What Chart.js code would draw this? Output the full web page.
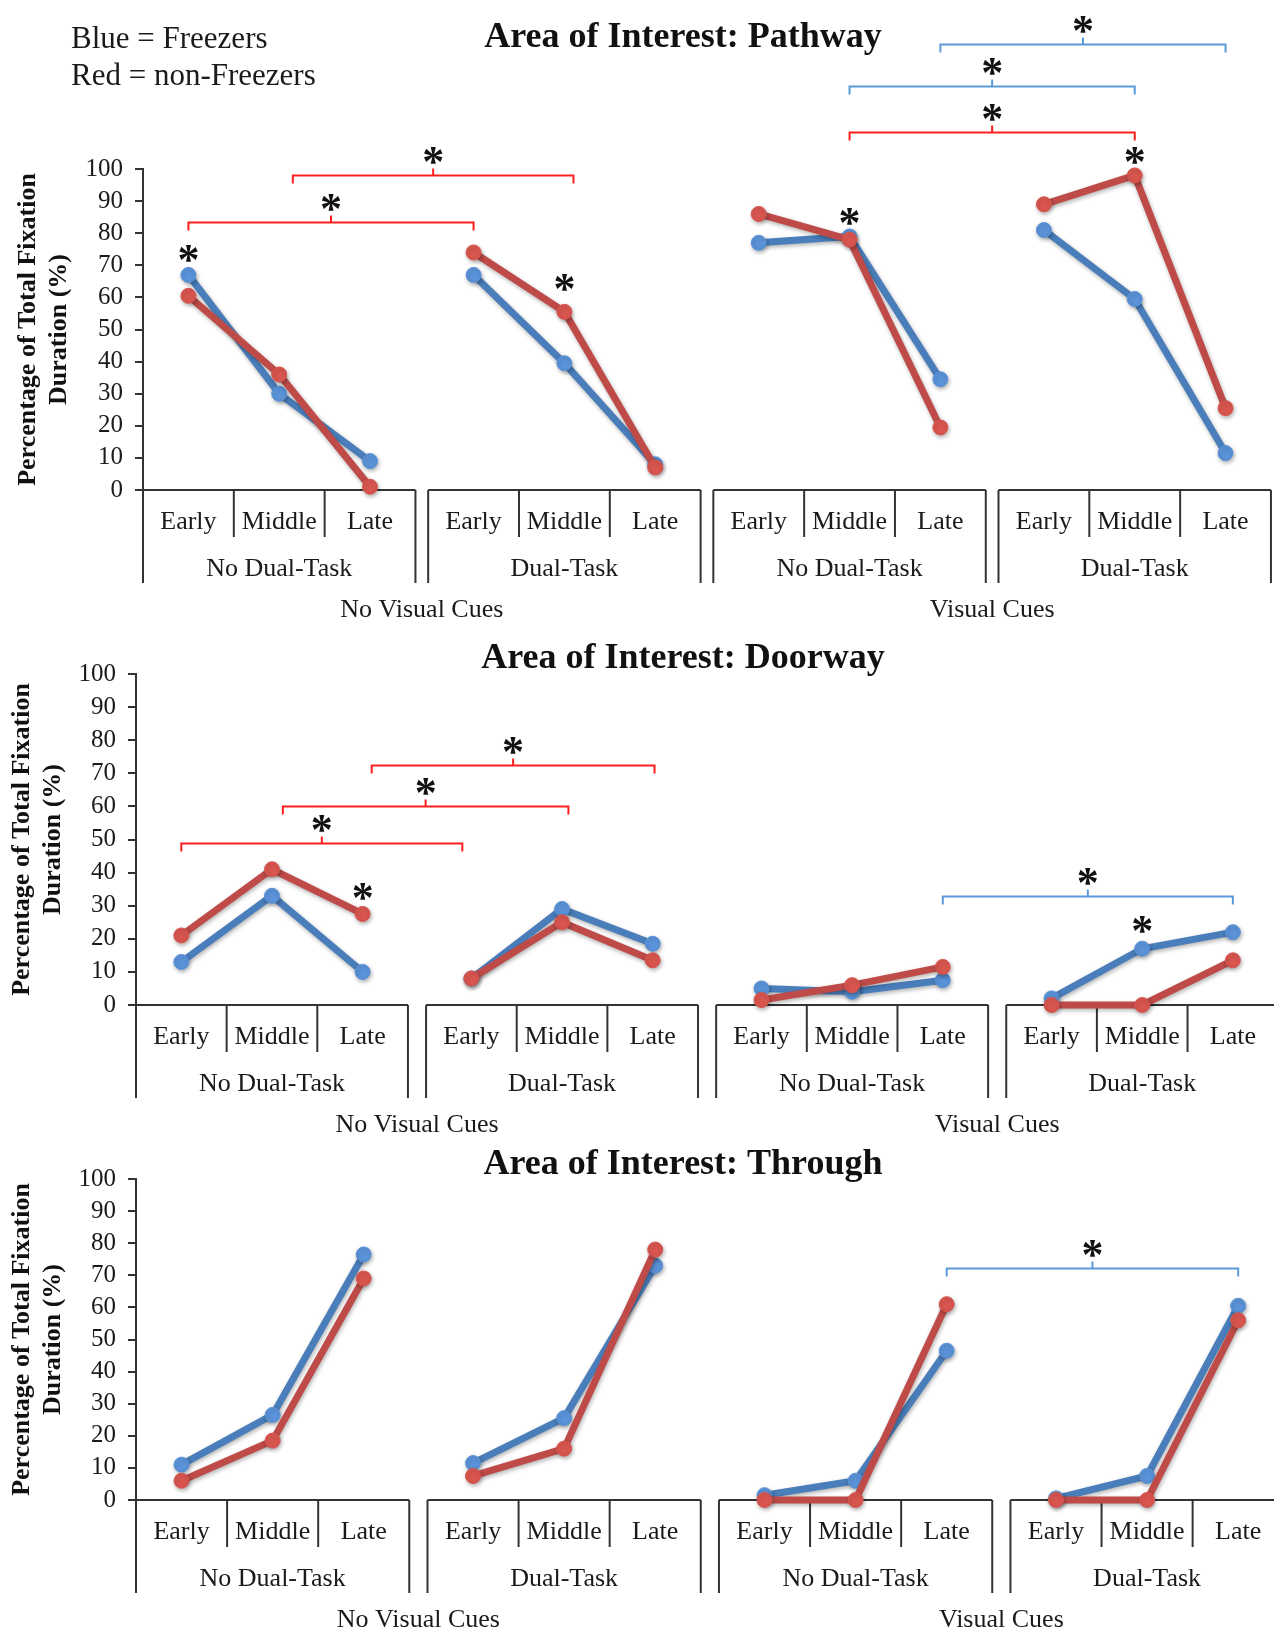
<!DOCTYPE html>
<html>
<head>
<meta charset="utf-8">
<script src="https://cdn.jsdelivr.net/npm/chart.js@4.4.1/dist/chart.umd.min.js"></script>
<style>
  body { margin: 0; background: #fff; }
  #wrap { position: relative; width: 1274px; height: 1636px; }
  canvas { position: absolute; left: 0; }
</style>
</head>
<body>
<div id="wrap">
  <canvas id="pathway" width="1274" height="630" style="top:0px"></canvas>
  <canvas id="doorway" width="1274" height="520" style="top:630px"></canvas>
  <canvas id="through" width="1274" height="506" style="top:1130px"></canvas>
</div>
<script>
// categories
const phases = ['Early', 'Middle', 'Late'];
const taskGroups = ['No Dual-Task', 'Dual-Task', 'No Dual-Task', 'Dual-Task'];
const cueGroups = ['No Visual Cues', 'Visual Cues'];
const legendLines = ['Blue = Freezers', 'Red = non-Freezers'];
const yTitle = ['Percentage of Total Fixation', 'Duration (%)'];

// Pathway (12 values: 4 groups x Early/Middle/Late)
const pathwayFreezers    = [67, 30, 9,   67, 39.5, 8,   77, 79, 34.5,   81, 59.5, 11.5];
const pathwayNonFreezers = [60.5, 36, 1, 74, 55.5, 7,   86, 78, 19.5,   89, 98, 25.5];
// significance brackets: [from index, to index, level, colour]
const pathwayBrackets = [[0, 3, 83.5, 'red'], [1.15, 4.1, 98, 'red'], [7, 10, 111.5, 'red'], [7, 10, 126, 'blue'], [8, 11, 139, 'blue']];
const pathwayStars = [[0, 74.5], [4, 65.5], [7, 86], [10, 105]];

// Doorway
const doorwayFreezers    = [13, 33, 10,   8, 29, 18.5,   5, 4, 7.5,    2, 17, 22];
const doorwayNonFreezers = [21, 41, 27.5, 8, 25, 13.5,   1.5, 6, 11.5, 0, 0, 13.5];
const doorwayBrackets = [[0, 2.9, 49, 'red'], [1.12, 4.07, 60, 'red'], [2.1, 5.02, 72.5, 'red'], [8, 11, 32.8, 'blue']];
const doorwayStars = [[2, 35], [10, 25]];

// Through
const throughFreezers    = [11, 26.5, 76.5, 11.5, 25.5, 73,   1.5, 6, 46.5,   0.5, 7.5, 60.5];
const throughNonFreezers = [6, 18.5, 69,   7.5, 16, 78,       0, 0, 61,       0, 0, 56];
const throughBrackets = [[8, 11, 72.4, 'blue']];
const throughStars = [];

const BLUE_LINE = '#4a7ebb', BLUE_PT = '#5b93d9';
const RED_LINE = '#be4b48', RED_PT = '#d9564f';
const BRACKET = { red: '#ff1e1e', blue: '#5a9ad8' };
const SERIF = '"Liberation Serif", "Times New Roman", serif';
Chart.defaults.font.family = SERIF;

function xOf(i, gap) {
  const base = Math.round(i), frac = i - base;
  const g = Math.floor(base / 3);
  return g * (3 + gap) + (base - g * 3) + 0.5 + frac;
}

function series(values, gap) {
  const pts = [];
  values.forEach((v, i) => {
    if (i > 0 && i % 3 === 0) pts.push({ x: xOf(i, gap) - 0.5 - gap / 2, y: null });
    pts.push({ x: xOf(i, gap), y: v });
  });
  return pts;
}

function line(ctx, x1, y1, x2, y2) {
  ctx.beginPath(); ctx.moveTo(x1, y1); ctx.lineTo(x2, y2); ctx.stroke();
}

function star(ctx, x, cy) {
  ctx.font = 'bold 44px ' + SERIF;
  ctx.textAlign = 'center';
  ctx.textBaseline = 'alphabetic';
  ctx.fillStyle = '#111';
  ctx.fillText('*', x, cy + 23);
}

function panelPlugin(cfg) {
  return {
    id: 'panel',
    beforeDatasetsDraw(chart) {
      const ctx = chart.ctx, xs = chart.scales.x, ys = chart.scales.y;
      const y0 = ys.getPixelForValue(0);
      ctx.save();
      ctx.strokeStyle = '#333';
      ctx.lineWidth = 2;
      ctx.fillStyle = '#1a1a1a';
      ctx.textAlign = 'center';
      ctx.textBaseline = 'middle';
      ctx.font = '26px ' + SERIF;
      for (let g = 0; g < 4; g++) {
        const l = xs.getPixelForValue(g * (3 + cfg.gap));
        const r = xs.getPixelForValue(g * (3 + cfg.gap) + 3);
        const w = (r - l) / 3;
        line(ctx, l, y0, r, y0);
        line(ctx, l, y0, l, y0 + 93);
        line(ctx, r, y0, r, y0 + 93);
        for (let k = 1; k < 3; k++) line(ctx, l + k * w, y0, l + k * w, y0 + 47);
        phases.forEach((p, k) => ctx.fillText(p, l + (k + 0.5) * w, y0 + 32));
        ctx.fillText(taskGroups[g], (l + r) / 2, y0 + 79);
      }
      cueGroups.forEach((c, k) => {
        const mid = xs.getPixelForValue((2 * k + 1) * (3 + cfg.gap) - cfg.gap / 2);
        ctx.fillText(c, mid, y0 + 120);
      });
      ctx.restore();
      // soft shadow under lines and markers
      ctx.save();
      ctx.shadowColor = 'rgba(0,0,0,0.3)';
      ctx.shadowBlur = 4;
      ctx.shadowOffsetX = 1;
      ctx.shadowOffsetY = 2;
    },
    afterDatasetsDraw(chart) {
      chart.ctx.restore();
    },
    afterDraw(chart) {
      const ctx = chart.ctx, xs = chart.scales.x, ys = chart.scales.y;
      const px = i => xs.getPixelForValue(xOf(i, cfg.gap));
      ctx.save();
      ctx.fillStyle = '#111';
      ctx.textAlign = 'center';
      ctx.textBaseline = 'middle';
      ctx.font = 'bold 36px ' + SERIF;
      ctx.fillText(cfg.title, 683, cfg.titleY);
      if (cfg.legend) {
        ctx.textAlign = 'left';
        ctx.font = '31px ' + SERIF;
        ctx.fillStyle = '#1a1a1a';
        ctx.fillText(legendLines[0], 71, 40);
        ctx.fillText(legendLines[1], 71, 77);
      }
      cfg.brackets.forEach(([a, b, level, col]) => {
        const x1 = px(a), x2 = px(b), y = Math.round(ys.getPixelForValue(level)) + 0.5;
        const mid = (x1 + x2) / 2;
        ctx.strokeStyle = BRACKET[col];
        ctx.lineWidth = 2;
        ctx.beginPath();
        ctx.moveTo(x1, y + 8); ctx.lineTo(x1, y); ctx.lineTo(x2, y); ctx.lineTo(x2, y + 8);
        ctx.moveTo(mid, y); ctx.lineTo(mid, y - 7);
        ctx.stroke();
        star(ctx, mid, y - 23);
      });
      cfg.stars.forEach(([i, level]) => star(ctx, px(i), ys.getPixelForValue(level)));
      ctx.restore();
    }
  };
}

function makePanel(id, cfg) {
  const canvas = document.getElementById(id);
  new Chart(canvas, {
    type: 'line',
    data: {
      datasets: [
        { label: 'Freezers', data: series(cfg.blue, cfg.gap), borderColor: BLUE_LINE, backgroundColor: BLUE_PT,
          pointBackgroundColor: BLUE_PT, pointBorderColor: BLUE_PT, order: 1 },
        { label: 'non-Freezers', data: series(cfg.red, cfg.gap), borderColor: RED_LINE, backgroundColor: RED_PT,
          pointBackgroundColor: RED_PT, pointBorderColor: RED_PT, order: 0 }
      ].map(d => Object.assign(d, { borderWidth: 7, pointRadius: 7.5, pointBorderWidth: 1, tension: 0,
        spanGaps: false, clip: false, fill: false }))
    },
    options: {
      responsive: false,
      animation: false,
      events: [],
      layout: { padding: { top: cfg.top, bottom: canvas.height - cfg.y0, left: 0, right: 0 } },
      plugins: { legend: { display: false }, tooltip: { enabled: false }, title: { display: false } },
      scales: {
        x: { type: 'linear', display: false, min: 0, max: cfg.xMax },
        y: {
          min: 0, max: 100,
          afterFit: s => { s.width = cfg.axisLeft; },
          border: { display: true, color: '#333', width: 2 },
          grid: { drawOnChartArea: false, drawTicks: true, tickLength: 8, color: '#333', lineWidth: 2 },
          ticks: { stepSize: 10, autoSkip: false, color: '#1a1a1a', padding: 12, font: { size: 25 } },
          title: { display: true, text: yTitle, color: '#111', padding: { top: cfg.yTitlePad, bottom: 0 },
            font: { size: 26, weight: 'bold', lineHeight: 1.19 } }
        }
      }
    },
    plugins: [panelPlugin(cfg)]
  });
}

makePanel('pathway', { title: 'Area of Interest: Pathway', titleY: 38, legend: true,
  blue: pathwayFreezers, red: pathwayNonFreezers, brackets: pathwayBrackets, stars: pathwayStars,
  axisLeft: 143, gap: 0.14, xMax: 12.36, top: 169, y0: 490, yTitlePad: 13 });

makePanel('doorway', { title: 'Area of Interest: Doorway', titleY: 29, legend: false,
  blue: doorwayFreezers, red: doorwayNonFreezers, brackets: doorwayBrackets, stars: doorwayStars,
  axisLeft: 136, gap: 0.2, xMax: 12.46, top: 44, y0: 375, yTitlePad: 7 });

makePanel('through', { title: 'Area of Interest: Through', titleY: 35, legend: false,
  blue: throughFreezers, red: throughNonFreezers, brackets: throughBrackets, stars: throughStars,
  axisLeft: 136, gap: 0.2, xMax: 12.4, top: 49, y0: 370, yTitlePad: 7 });
</script>
</body>
</html>
